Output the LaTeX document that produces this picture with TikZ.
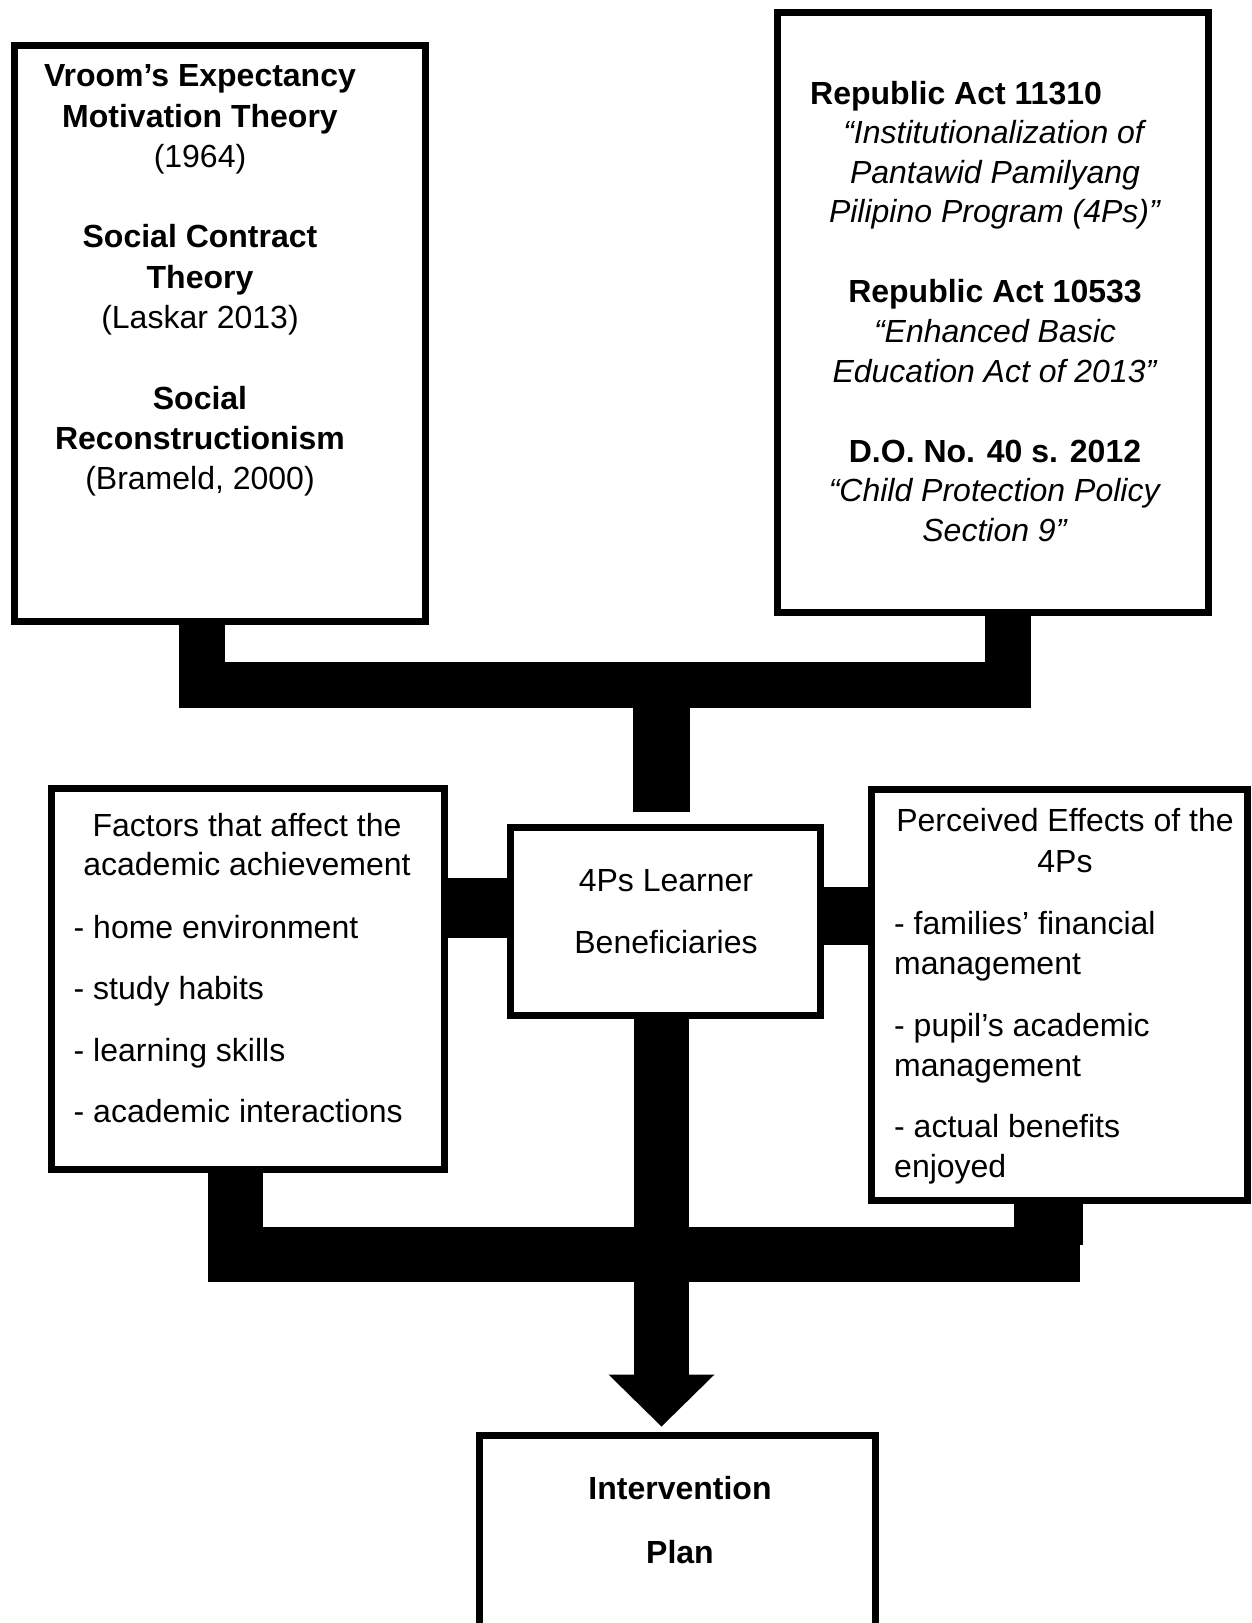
\documentclass[tikz,border=0pt]{standalone}
\usepackage{fontspec}
\setmainfont{Liberation Sans}
\usetikzlibrary{arrows.meta,calc}

\begin{document}
\begin{tikzpicture}[x=1pt,y=-1pt,line join=miter]
  \tikzstyle{frame}=[rectangle,draw=black,line width=7pt,fill=white,inner sep=0pt]
  \tikzstyle{txt}=[inner sep=0pt,anchor=north,font=\fontsize{32}{40.3}\selectfont]
  \tikzstyle{bar}=[draw=black,line cap=butt]

  \useasboundingbox (0,0) rectangle (1251,1623);
  \clip (0,0) rectangle (1251,1623);

  % boxes
  \node[frame,minimum width=411pt,minimum height=576pt] (vroom)   at (220,333.5)   {};
  \node[frame,minimum width=431pt,minimum height=600pt] (ra)      at (993,312.5)   {};
  \node[frame,minimum width=310pt,minimum height=188pt] (learner) at (665.5,921.5) {};
  \node[frame,minimum width=393pt,minimum height=381pt] (factors) at (248,979)     {};
  \node[frame,minimum width=376pt,minimum height=411pt] (effects) at (1059.5,995)  {};
  \node[frame,minimum width=396pt,minimum height=220pt] (plan)    at (677.5,1545.5) {};

  % texts
  \node[txt,align=center] (vroomtxt) at (200,64.5)
    {\textbf{Vroom’s Expectancy}\\ \textbf{Motivation Theory}\\ (1964)\\[40.3pt]
     \textbf{Social Contract}\\ \textbf{Theory}\\ (Laskar 2013)\\[40.3pt]
     \textbf{Social}\\ \textbf{Reconstructionism}\\ (Brameld, 2000)};
  \node[txt,anchor=north west] (ratitle) at (810,81) {\textbf{Republic Act 11310}};
  \node[txt,align=center,font=\fontsize{32}{39.8}\selectfont] (ratxt) at (995,120)
    {\textit{“Institutionalization of}\\ \textit{Pantawid Pamilyang}\\ \textit{Pilipino Program (4Ps)”}\\[40pt]
     \textbf{Republic Act 10533}\\ \textit{“Enhanced Basic}\\ \textit{Education Act of 2013”}\\[40pt]
     \textbf{D.O. No. 40 s. 2012}\\ \textit{“Child Protection Policy}\\ \textit{Section 9”}};
  \node[txt,align=center,font=\fontsize{32}{62}\selectfont] (learnertxt) at (666,869)
    {4Ps Learner\\ Beneficiaries};
  \node[txt,align=center,font=\fontsize{32}{39}\selectfont] (factorshead) at (247,813)
    {Factors that affect the\\ academic achievement};
  \node[txt,anchor=north west,align=left,font=\fontsize{32}{61.3}\selectfont] (factorslist) at (73.5,915)
    {- home environment\\ - study habits\\ - learning skills\\ - academic interactions};
  \node[txt,align=center,font=\fontsize{32}{41}\selectfont] (effectshead) at (1065,808)
    {Perceived Effects of the\\ 4Ps};
  \node[txt,anchor=north west,align=left,font=\fontsize{32}{40.5}\selectfont] (effectslist) at (894,911)
    {- families’ financial\\ management\\[21pt] - pupil’s academic\\ management\\[20pt]
     - actual benefits\\ enjoyed};
  \node[txt,align=center,font=\fontsize{32}{64}\selectfont] (plantxt) at (680,1476)
    {\textbf{Intervention}\\ \textbf{Plan}};

  % junctions
  \coordinate (jA) at (202,685);
  \coordinate (jB) at (1007.5,685);
  \coordinate (jM) at (661.5,685);
  \coordinate (jL) at (477,908);
  \coordinate (jR) at (846,916);
  \coordinate (kD) at (235,1254.5);
  \coordinate (kE) at (1052.5,1254.5);
  \coordinate (kS) at (1048.5,1245);

  % connectors
  \draw[bar,line width=46pt] (vroom.south -| jA) -- (jA) -- (jB) -- (ra.south -| jB);
  \draw[bar,line width=57pt,shorten >=12pt] (jM) -- (learner.north -| jM);
  \draw[bar,line width=60pt] (factors.east |- jL) -- (learner.west |- jL);
  \draw[bar,line width=58pt] (learner.east |- jR) -- (effects.west |- jR);
  \draw[bar,line width=55pt] (factors.south -| kD) -- (kD) -- (kE) -- (effects.south -| kE);
  \draw[bar,line width=69pt] (effects.south -| kS) -- (kS);
  \draw[bar,line width=55pt,shorten >=5.5pt,-{Triangle[length=52pt,width=106pt,line width=0pt]}]
    (learner.south -| jM) -- (plan.north -| jM);
\end{tikzpicture}
\end{document}
